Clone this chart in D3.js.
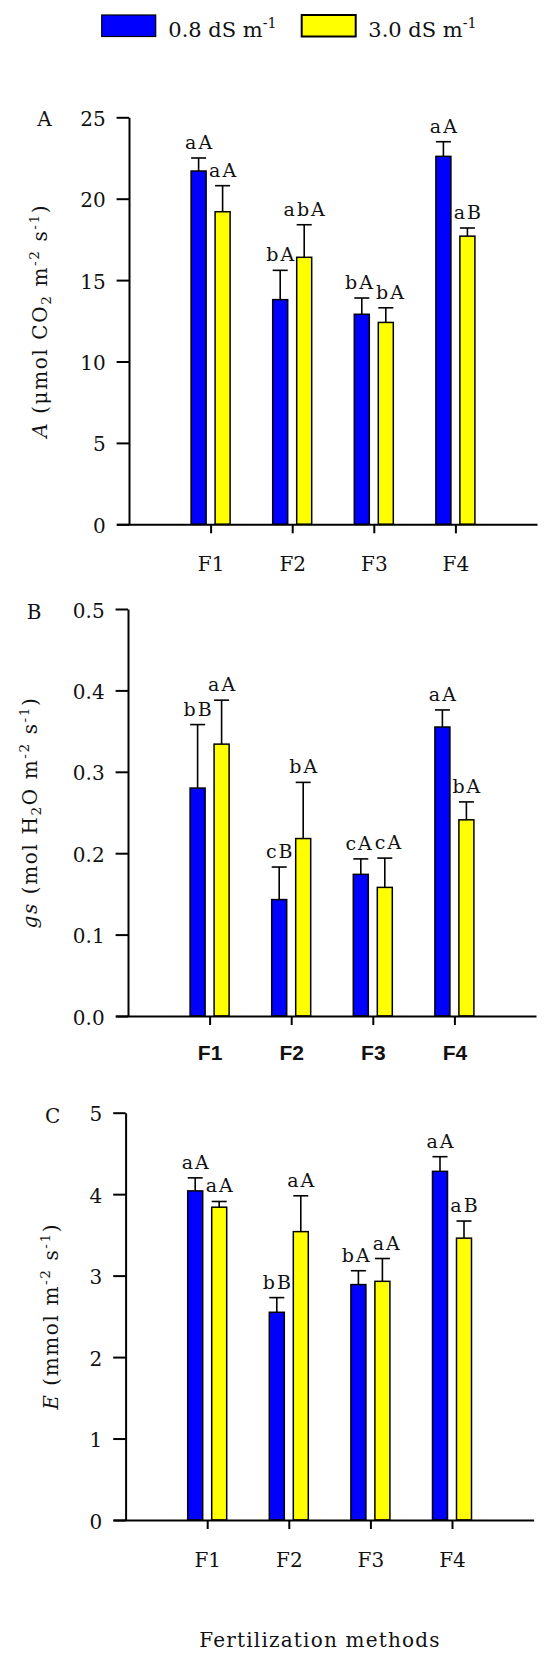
<!DOCTYPE html>
<html lang="en">
<head>
<meta charset="UTF-8"/>
<title>Gas exchange under fertilization methods</title>
<style>
  body { margin: 0; background: #fff; }
  svg { display: block; }
  text { font-family: "DejaVu Serif", serif; fill: #111; }
  .axis path, .axis line { stroke: #000; stroke-width: 2; }
  .axis text { font-family: "DejaVu Serif", serif; font-size: 20px; fill: #111; }
  .cat-sans text { font-family: "Liberation Sans", Arial, sans-serif; font-size: 21px; font-weight: bold; }
  .letters { font-size: 19px; letter-spacing: 2px; }
  .title { font-size: 20px; letter-spacing: 1.6px; }
  .tag { font-size: 20px; }
  .legend { font-size: 21px; }
  .xlabel { font-size: 20px; letter-spacing: 1.2px; }
  .bar { stroke: #000; stroke-width: 1.5; }
  .err { stroke: #000; stroke-width: 1.6; }
</style>
</head>
<body>
<svg width="550" height="1658"></svg>
<script src="https://d3js.org/d3.v7.min.js"></script>
<script>
const categories = ['F1', 'F2', 'F3', 'F4'];
const seriesColors = ['#0000ff', '#ffff00'];
const seriesLabels = [['0.8 dS m', '-1'], ['3.0 dS m', '-1']];

// A: net photosynthesis
const photoLow = [21.7, 13.8, 12.9, 22.6];
const photoLowSe = [0.8, 1.8, 1.0, 0.9];
const photoHigh = [19.2, 16.4, 12.4, 17.7];
const photoHighSe = [1.6, 2.0, 0.9, 0.5];
const photoLowLetters = ['aA', 'bA', 'bA', 'aA'];
const photoHighLetters = ['aA', 'abA', 'bA', 'aB'];
const photoTicks = [0, 5, 10, 15, 20, 25];

// B: stomatal conductance
const gsLow = [0.280, 0.143, 0.174, 0.355];
const gsLowSe = [0.078, 0.040, 0.019, 0.021];
const gsHigh = [0.334, 0.218, 0.158, 0.241];
const gsHighSe = [0.054, 0.069, 0.036, 0.022];
const gsLowLetters = ['bB', 'cB', 'cA', 'aA'];
const gsHighLetters = ['aA', 'bA', 'cA', 'bA'];
const gsTicks = [0, 0.1, 0.2, 0.3, 0.4, 0.5];

// C: transpiration
const eLow = [4.04, 2.55, 2.89, 4.28];
const eLowSe = [0.16, 0.18, 0.17, 0.18];
const eHigh = [3.84, 3.54, 2.93, 3.46];
const eHighSe = [0.07, 0.44, 0.28, 0.21];
const eLowLetters = ['aA', 'bB', 'bA', 'aA'];
const eHighLetters = ['aA', 'aA', 'aA', 'aB'];
const eTicks = [0, 1, 2, 3, 4, 5];

const panels = [
  { tag: 'A', low: photoLow, lowSe: photoLowSe, high: photoHigh, highSe: photoHighSe,
    lowLetters: photoLowLetters, highLetters: photoHighLetters, ticks: photoTicks,
    fmt: d3.format('d'),
    title: [{ t: 'A', it: true }, { t: ' (μmol CO' }, { t: '2', sub: true }, { t: ' m' },
            { t: '-2', sup: true }, { t: ' s' }, { t: '-1', sup: true }, { t: ')' }],
    ax: 129, top: 117.3, bottom: 524.3, tagX: 44.5, tagY: 126, titleX: 47, sans: false },
  { tag: 'B', low: gsLow, lowSe: gsLowSe, high: gsHigh, highSe: gsHighSe,
    lowLetters: gsLowLetters, highLetters: gsHighLetters, ticks: gsTicks,
    fmt: d3.format('.1f'),
    title: [{ t: 'gs', it: true }, { t: ' (mol H' }, { t: '2', sub: true }, { t: 'O m' },
            { t: '-2', sup: true }, { t: ' s' }, { t: '-1', sup: true }, { t: ')' }],
    ax: 128, top: 609, bottom: 1016, tagX: 34, tagY: 619, titleX: 37, sans: true },
  { tag: 'C', low: eLow, lowSe: eLowSe, high: eHigh, highSe: eHighSe,
    lowLetters: eLowLetters, highLetters: eHighLetters, ticks: eTicks,
    fmt: d3.format('d'),
    title: [{ t: 'E', it: true }, { t: ' (mmol m' }, { t: '-2', sup: true }, { t: ' s' },
            { t: '-1', sup: true }, { t: ')' }],
    ax: 125.6, top: 1112.7, bottom: 1520, tagX: 52.6, tagY: 1123, titleX: 58, sans: false }
];

const svg = d3.select('svg');
const step = 81.6;
const tickLen = 12.4;
const barW = 15;
const barOff = 12;

// text with sub/superscript pieces
function rich(sel, parts, size) {
  let off = 0;
  parts.forEach(p => {
    const shift = p.sup ? -size * 0.42 : p.sub ? size * 0.22 : 0;
    sel.append('tspan')
      .attr('dy', shift - off)
      .attr('font-size', p.sup || p.sub ? size * 0.68 : size)
      .attr('font-style', p.it ? 'italic' : null)
      .text(p.t);
    off = shift;
  });
}

panels.forEach(p => {
  const g = svg.append('g');
  const y = d3.scaleLinear().domain([0, d3.max(p.ticks)]).range([p.bottom, p.top]);
  const x = d3.scaleLinear()
    .domain([-tickLen / step, 5])
    .range([p.ax - tickLen, p.ax + 5 * step]);

  const rows = [];
  categories.forEach((c, i) => {
    rows.push({ i, s: 0, v: p.low[i], se: p.lowSe[i], lab: p.lowLetters[i] });
    rows.push({ i, s: 1, v: p.high[i], se: p.highSe[i], lab: p.highLetters[i] });
  });
  const cx = d => x(d.i + 1) + (d.s ? barOff : -barOff);

  const bars = g.selectAll('.grp').data(rows).enter().append('g');
  bars.append('line')
    .attr('class', 'err')
    .attr('x1', cx).attr('x2', cx)
    .attr('y1', d => y(d.v)).attr('y2', d => y(d.v + d.se));
  bars.append('line')
    .attr('class', 'err')
    .attr('x1', d => cx(d) - barW / 2).attr('x2', d => cx(d) + barW / 2)
    .attr('y1', d => y(d.v + d.se)).attr('y2', d => y(d.v + d.se));
  bars.append('rect')
    .attr('class', 'bar')
    .attr('x', d => cx(d) - barW / 2)
    .attr('width', barW)
    .attr('y', d => y(d.v))
    .attr('height', d => y(0) - y(d.v))
    .attr('fill', d => seriesColors[d.s]);
  const labels = bars.append('text')
    .attr('class', 'letters')
    .attr('x', d => cx(d) + 1)
    .attr('y', d => y(d.v + d.se) - 9)
    .attr('text-anchor', 'middle')
    .text(d => d.lab);

  // push apart the two letter labels of a group when they collide
  const nodes = labels.nodes();
  for (let k = 0; k < nodes.length; k += 2) {
    const a = nodes[k].getBBox(), b = nodes[k + 1].getBBox();
    const overlapX = a.x + a.width - b.x;
    const overlapY = Math.min(a.y + a.height, b.y + b.height) - Math.max(a.y, b.y);
    if (overlapX > -1 && overlapY > 2) {
      const push = overlapX + 1;
      d3.select(nodes[k]).attr('x', +nodes[k].getAttribute('x') - push * 0.4);
      d3.select(nodes[k + 1]).attr('x', +nodes[k + 1].getAttribute('x') + push * 0.6);
    }
  }

  g.append('g')
    .attr('class', 'axis')
    .attr('transform', `translate(${p.ax},0)`)
    .call(d3.axisLeft(y).tickValues(p.ticks).tickSize(tickLen).tickSizeOuter(0)
      .tickPadding(11).tickFormat(p.fmt))
    .selectAll('text').attr('dy', '0.4em');

  g.append('g')
    .attr('class', p.sans ? 'axis cat-sans' : 'axis')
    .attr('transform', `translate(0,${y(0)})`)
    .call(d3.axisBottom(x).tickValues([1, 2, 3, 4]).tickSize(9).tickSizeOuter(0)
      .tickFormat(i => categories[i - 1]))
    .selectAll('text').attr('y', p.sans ? 44 : 46.5).attr('dy', 0);

  g.append('text')
    .attr('class', 'tag')
    .attr('x', p.tagX).attr('y', p.tagY)
    .attr('text-anchor', 'middle')
    .text(p.tag);

  const t = g.append('text')
    .attr('class', 'title')
    .attr('transform', `translate(${p.titleX},${(p.top + p.bottom) / 2}) rotate(-90)`)
    .attr('text-anchor', 'middle');
  rich(t, p.title, 20);
});

// legend
const legendX = [101.7, 301.7];
seriesLabels.forEach((lab, k) => {
  svg.append('rect')
    .attr('x', legendX[k]).attr('y', 15)
    .attr('width', 54).attr('height', 21.5)
    .attr('fill', seriesColors[k])
    .attr('stroke', '#000')
    .attr('stroke-width', k ? 2 : 1.2);
  const t = svg.append('text')
    .attr('class', 'legend')
    .attr('x', legendX[k] + 66.6).attr('y', 36.5);
  rich(t, [{ t: lab[0] }, { t: lab[1], sup: true }], 21);
});

svg.append('text')
  .attr('class', 'xlabel')
  .attr('x', 320).attr('y', 1647)
  .attr('text-anchor', 'middle')
  .text('Fertilization methods');
</script>
</body>
</html>
